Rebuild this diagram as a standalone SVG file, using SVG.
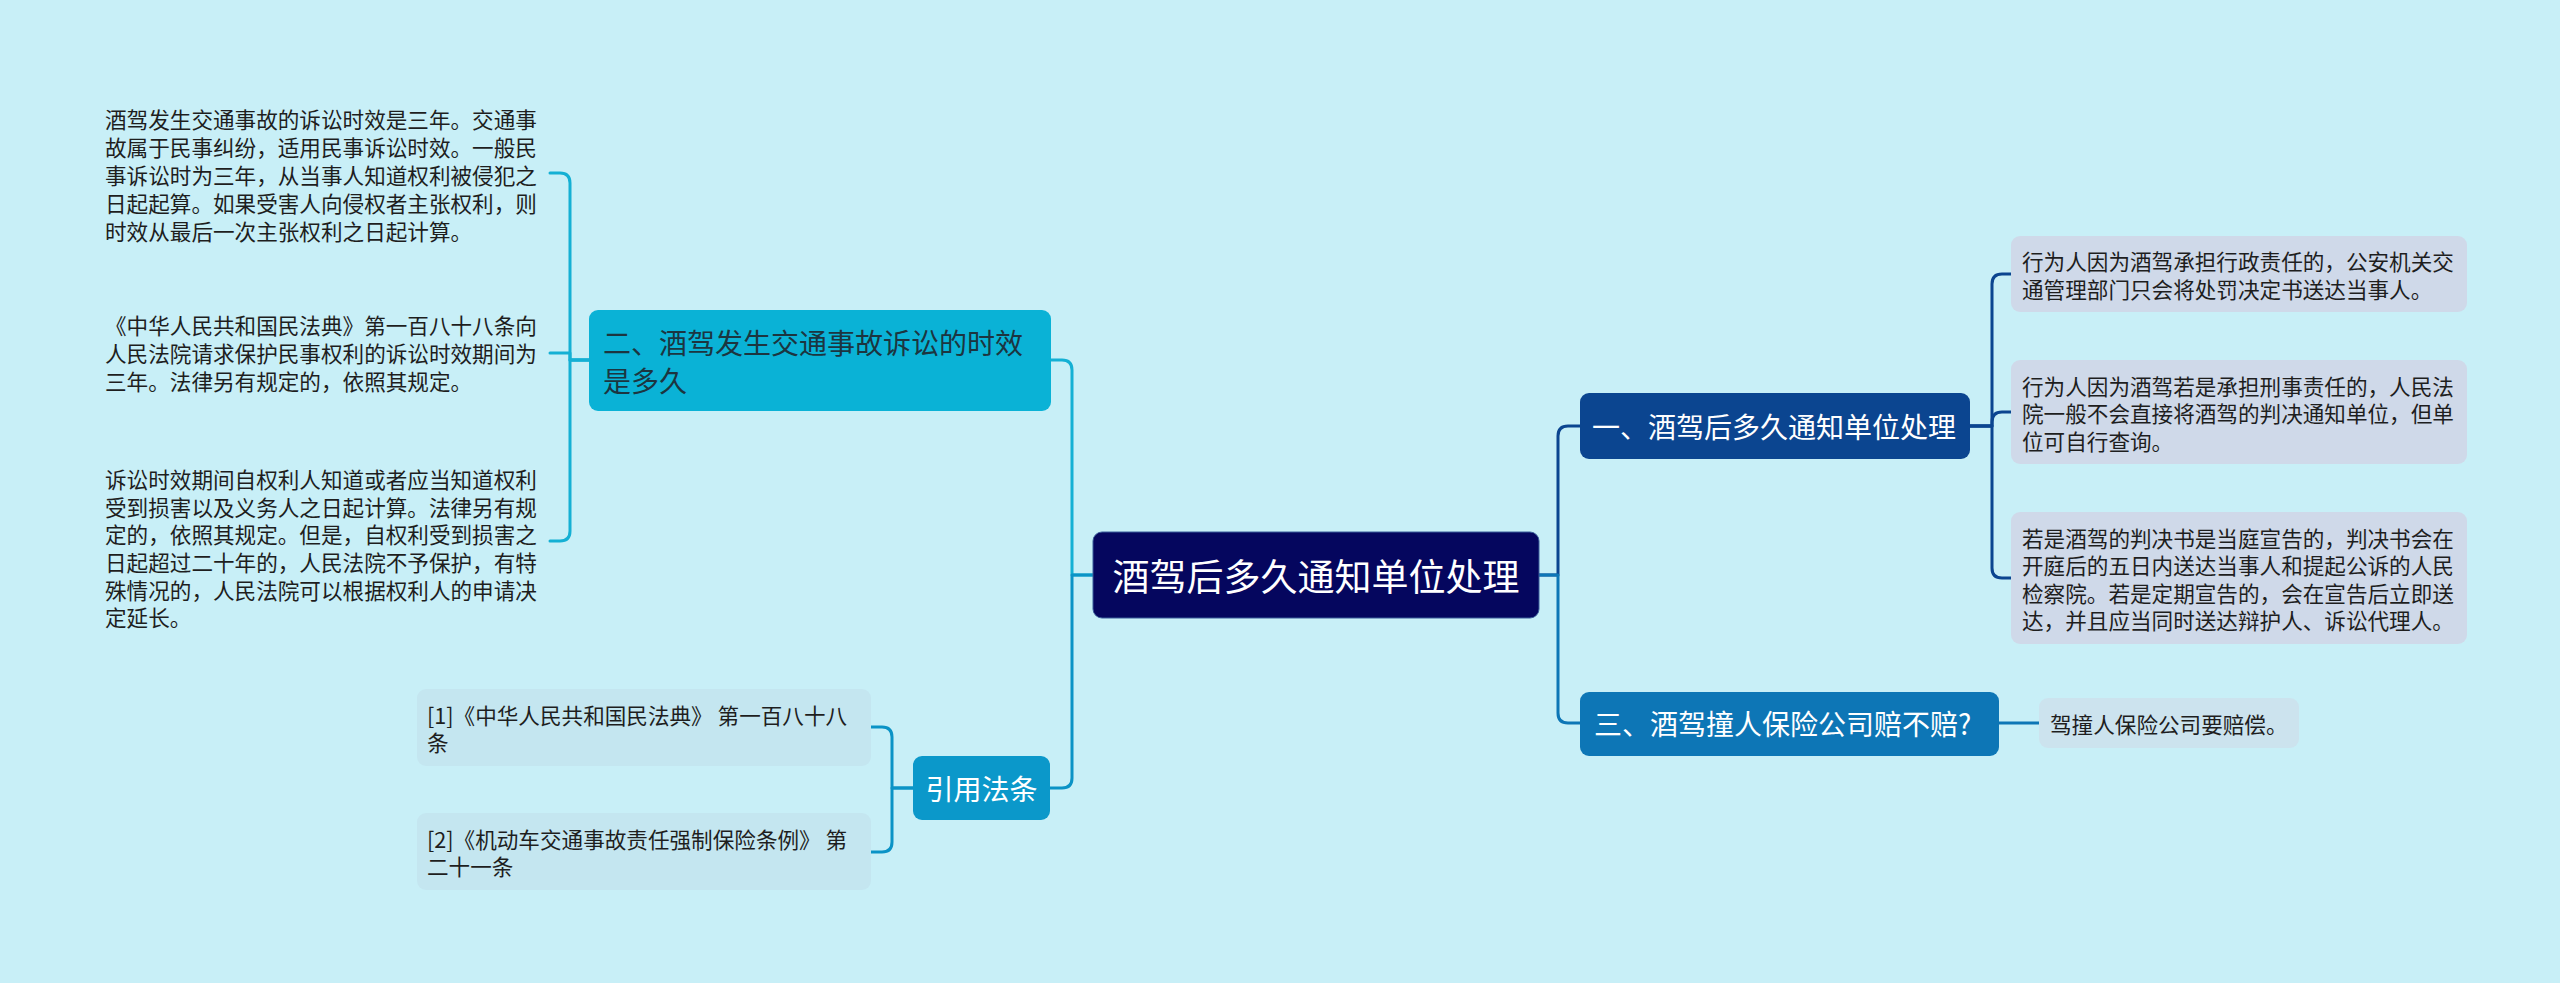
<svg xmlns="http://www.w3.org/2000/svg" width="2560" height="983" viewBox="0 0 2560 983">
<style>
text{font-family:"Noto Sans CJK SC","Microsoft YaHei",sans-serif;dominant-baseline:central}
.leaf{font-size:21.6px;fill:#1e1e1e}
.br{font-size:28px;fill:#ffffff}
.c{fill:none;stroke-width:3;stroke-linecap:round;stroke-linejoin:round}
</style>
<rect x="0" y="0" width="2560" height="983" fill="#c8eff7"/>
<g id="connectors">
<path class="c" stroke="#14b0d4" d="M1093 575 H1072 V370 Q1072 360 1062 360 H1051"/>
<path class="c" stroke="#0b93c6" d="M1093 575 H1072 V778 Q1072 788 1062 788 H1050"/>
<path class="c" stroke="#0b4590" d="M1538 575 H1558 V436 Q1558 426 1568 426 H1580"/>
<path class="c" stroke="#0d76b6" d="M1538 575 H1558 V713 Q1558 723 1568 723 H1580"/>
<path class="c" stroke="#14b0d4" d="M589 360 H570 V183 Q570 173 560 173 H550"/>
<path class="c" stroke="#14b0d4" d="M589 360 H570 V353 H550"/>
<path class="c" stroke="#14b0d4" d="M589 360 H570 V531 Q570 541 560 541 H550"/>
<path class="c" stroke="#0b93c6" d="M913 788 H892 V737 Q892 727 882 727 H871"/>
<path class="c" stroke="#0b93c6" d="M913 788 H892 V842 Q892 852 882 852 H871"/>
<path class="c" stroke="#0b4590" d="M1970 426 H1992 V284 Q1992 274 2002 274 H2011"/>
<path class="c" stroke="#0b4590" d="M1970 426 H1992 V422 Q1992 412 2002 412 H2011"/>
<path class="c" stroke="#0b4590" d="M1970 426 H1992 V568 Q1992 578 2002 578 H2011"/>
<path class="c" stroke="#0d76b6" d="M1999 723 H2039"/>
</g>
<g id="root">
<rect x="1093" y="532" width="446" height="86" rx="9" fill="#05065e" stroke="#3a5c9a" stroke-width="1"/>
<text x="1316" y="575" font-size="37" fill="#ffffff" text-anchor="middle">酒驾后多久通知单位处理</text>
</g>
<g id="branch2">
<rect x="589" y="310" width="462" height="101" rx="9" fill="#0ab2d6"/>
<text x="603" y="342" font-size="28" fill="#1c3540">二、酒驾发生交通事故诉讼的时效</text>
<text x="603" y="380" font-size="28" fill="#1c3540">是多久</text>
</g>
<g id="leaf2a">
<text class="leaf" x="105" y="118">酒驾发生交通事故的诉讼时效是三年。交通事</text>
<text class="leaf" x="105" y="146">故属于民事纠纷，适用民事诉讼时效。一般民</text>
<text class="leaf" x="105" y="174">事诉讼时为三年，从当事人知道权利被侵犯之</text>
<text class="leaf" x="105" y="202">日起起算。如果受害人向侵权者主张权利，则</text>
<text class="leaf" x="105" y="230">时效从最后一次主张权利之日起计算。</text>
</g>
<g id="leaf2b">
<text class="leaf" x="105" y="324">《中华人民共和国民法典》第一百八十八条向</text>
<text class="leaf" x="105" y="352">人民法院请求保护民事权利的诉讼时效期间为</text>
<text class="leaf" x="105" y="380">三年。法律另有规定的，依照其规定。</text>
</g>
<g id="leaf2c">
<text class="leaf" x="105" y="478">诉讼时效期间自权利人知道或者应当知道权利</text>
<text class="leaf" x="105" y="506">受到损害以及义务人之日起计算。法律另有规</text>
<text class="leaf" x="105" y="533">定的，依照其规定。但是，自权利受到损害之</text>
<text class="leaf" x="105" y="561">日起超过二十年的，人民法院不予保护，有特</text>
<text class="leaf" x="105" y="589">殊情况的，人民法院可以根据权利人的申请决</text>
<text class="leaf" x="105" y="616">定延长。</text>
</g>
<g id="cite">
<rect x="913" y="756" width="137" height="64" rx="9" fill="#0b98ca"/>
<text x="981.5" y="788" font-size="28" fill="#ffffff" text-anchor="middle">引用法条</text>
</g>
<g id="cite1">
<rect x="417" y="689" width="454" height="77" rx="9" fill="#c4e6f0"/>
<text class="leaf" x="427" y="714">[1]《中华人民共和国民法典》 第一百八十八</text>
<text class="leaf" x="427" y="741">条</text>
</g>
<g id="cite2">
<rect x="417" y="813" width="454" height="77" rx="9" fill="#c4e6f0"/>
<text class="leaf" x="427" y="838">[2]《机动车交通事故责任强制保险条例》 第</text>
<text class="leaf" x="427" y="865">二十一条</text>
</g>
<g id="branch1">
<rect x="1580" y="393" width="390" height="66" rx="9" fill="#0b4590"/>
<text class="br" x="1592" y="426">一、酒驾后多久通知单位处理</text>
</g>
<g id="leaf1a">
<rect x="2011" y="236" width="456" height="76" rx="9" fill="#cfd9e9"/>
<text class="leaf" x="2022" y="260">行为人因为酒驾承担行政责任的，公安机关交</text>
<text class="leaf" x="2022" y="288">通管理部门只会将处罚决定书送达当事人。</text>
</g>
<g id="leaf1b">
<rect x="2011" y="360" width="456" height="104" rx="9" fill="#cfd9e9"/>
<text class="leaf" x="2022" y="385">行为人因为酒驾若是承担刑事责任的，人民法</text>
<text class="leaf" x="2022" y="412">院一般不会直接将酒驾的判决通知单位，但单</text>
<text class="leaf" x="2022" y="440">位可自行查询。</text>
</g>
<g id="leaf1c">
<rect x="2011" y="512" width="456" height="132" rx="9" fill="#cfd9e9"/>
<text class="leaf" x="2022" y="537">若是酒驾的判决书是当庭宣告的，判决书会在</text>
<text class="leaf" x="2022" y="564">开庭后的五日内送达当事人和提起公诉的人民</text>
<text class="leaf" x="2022" y="592">检察院。若是定期宣告的，会在宣告后立即送</text>
<text class="leaf" x="2022" y="619">达，并且应当同时送达辩护人、诉讼代理人。</text>
</g>
<g id="branch3">
<rect x="1580" y="692" width="419" height="64" rx="9" fill="#0d76b6"/>
<text class="br" x="1594" y="723">三、酒驾撞人保险公司赔不赔?</text>
</g>
<g id="leaf3">
<rect x="2039" y="698" width="260" height="50" rx="9" fill="#cce3ee"/>
<text class="leaf" x="2050" y="723">驾撞人保险公司要赔偿。</text>
</g>
</svg>
